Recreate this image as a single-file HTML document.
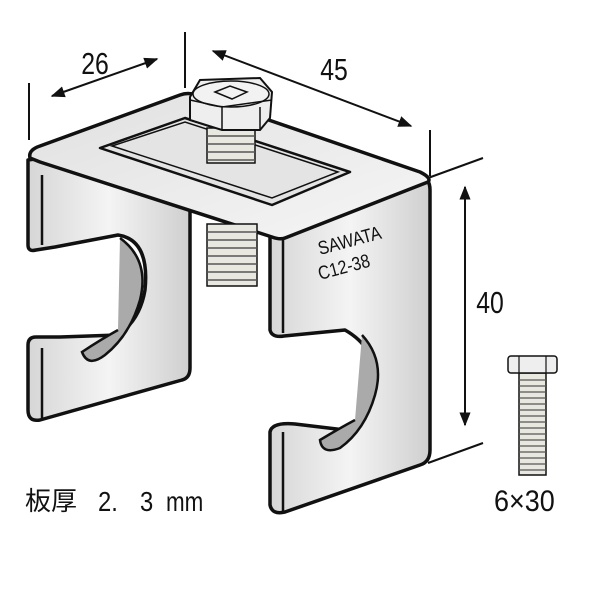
<!DOCTYPE html>
<html><head><meta charset="utf-8"><style>
html,body{margin:0;padding:0;background:#fff;}
svg{display:block;}
text{font-family:"Liberation Sans","Noto Sans CJK JP",sans-serif;fill:#111;}
</style></head><body>
<svg width="600" height="600" viewBox="0 0 600 600" xmlns="http://www.w3.org/2000/svg">
<defs>
<linearGradient id="g1" x1="0" y1="0" x2="1" y2="0">
<stop offset="0" stop-color="#d6d6d6"/><stop offset="0.5" stop-color="#f4f4f4"/><stop offset="1" stop-color="#cfcfcf"/></linearGradient>
<linearGradient id="g2" x1="0" y1="0" x2="1" y2="1">
<stop offset="0" stop-color="#e0e0e0"/><stop offset="1" stop-color="#f6f6f6"/></linearGradient>
<marker id="ar" viewBox="0 0 10 10" refX="9" refY="5" markerWidth="7" markerHeight="7" orient="auto-start-reverse"><path d="M0,1 L10,5 L0,9 Z" fill="#111"/></marker>
</defs>
<g stroke="#111" stroke-width="2" fill="none">
<line x1="29" y1="83" x2="29" y2="140"/>
<line x1="185" y1="32" x2="185" y2="88"/>
<line x1="52" y1="96" x2="157" y2="59" marker-start="url(#ar)" marker-end="url(#ar)"/>
<line x1="213" y1="51" x2="411" y2="126" marker-start="url(#ar)" marker-end="url(#ar)"/>
<line x1="430" y1="130" x2="430" y2="176"/>
<line x1="428" y1="178" x2="483" y2="158"/>
<line x1="428" y1="463" x2="483" y2="443"/>
<line x1="465" y1="187" x2="465" y2="425" marker-start="url(#ar)" marker-end="url(#ar)"/>
</g>
<text font-size="31" text-anchor="middle" transform="translate(95,74) scale(0.8,1)">26</text>
<text font-size="31" text-anchor="middle" transform="translate(334,80) scale(0.8,1)">45</text>
<text font-size="31" text-anchor="middle" transform="translate(490,313) scale(0.8,1)">40</text>

<path d="M28,160 L28,245 Q28,252 36,250 L55,247 L118,235 Q150,240 145,290 Q140,320 118,335 L60,337 L36,337 Q28,337 28,345 L28,410 Q28,422 40,420 L182,380 Q190,378 190,368 L190,205 L42,158 Z" fill="url(#g1)" stroke="#111" stroke-width="3.5" stroke-linejoin="round"/>
<line x1="42" y1="175" x2="42" y2="245" stroke="#111" stroke-width="2.5"/>
<line x1="42" y1="348" x2="42" y2="420" stroke="#111" stroke-width="2.5"/>
<path d="M120,238 Q150,260 140,300 Q130,335 105,355 Q88,368 82,352 Q100,340 118,330" fill="#aaa" stroke="#111" stroke-width="2.5"/>
<path d="M270,232 L270,330 Q272,338 284,336 L345,330 Q380,350 375,390 Q370,420 345,430 L295,424 Q272,422 270,432 L270,505 Q272,515 285,512 L420,465 Q430,462 430,450 L430,190 Q430,178 420,176 Z" fill="url(#g1)" stroke="#111" stroke-width="3.5" stroke-linejoin="round"/>
<line x1="283" y1="240" x2="283" y2="333" stroke="#111" stroke-width="2.5"/>
<line x1="283" y1="432" x2="283" y2="512" stroke="#111" stroke-width="2.5"/>
<path d="M362,335 Q385,360 375,395 Q365,430 340,448 Q322,455 320,440 Q340,428 355,420" fill="#aaa" stroke="#111" stroke-width="2.5"/>
<path d="M30,158 Q28,150 40,146 L180,95 Q188,92 196,95 L420,172 Q432,178 428,182 L285,238 Q280,240 272,237 L40,162 Z" fill="url(#g2)" stroke="#111" stroke-width="3.5" stroke-linejoin="round"/>
<path d="M100,148 L185,118 L350,172 L272,205 Z" fill="#e4e4e4" stroke="#111" stroke-width="2.5" stroke-linejoin="round"/>
<path d="M112,146 L185,122 L338,172 L272,198 Z" fill="none" stroke="#111" stroke-width="1.5"/>
<rect x="207" y="224" width="50" height="62" fill="#e8e8e0" stroke="#111" stroke-width="1.5"/>
<g stroke="#555" stroke-width="1.5" fill="none">
<path d="M207,232 h50 M207,240 h50 M207,248 h50 M207,256 h50 M207,264 h50 M207,272 h50 M207,280 h50"/>
</g>
<rect x="207" y="128" width="48" height="35" fill="#e8e8e0" stroke="#111" stroke-width="1.5"/>
<g stroke="#555" stroke-width="1.5"><path d="M207,136 h48 M207,144 h48 M207,152 h48 M207,160 h48"/></g>
<path d="M190,97 L200,80 L260,78 L272,92 L270,118 L260,130 L222,130 L190,120 Z" fill="#eee" stroke="#111" stroke-width="2"/>
<ellipse cx="231" cy="94" rx="38" ry="13" fill="#f2f2f2" stroke="#111" stroke-width="1.5"/>
<path d="M215,92 L230,86 L247,92 L232,99 Z" fill="none" stroke="#111" stroke-width="1.5"/>
<line x1="222" y1="107" x2="222" y2="130" stroke="#111" stroke-width="1.5"/>
<line x1="260" y1="107" x2="260" y2="130" stroke="#111" stroke-width="1.5"/>
<path d="M190,100 L222,107 L272,100" fill="none" stroke="#111" stroke-width="1.5"/>
<text font-size="19" transform="translate(320,255) rotate(-15) scale(0.85,1)">SAWATA</text>
<text font-size="19" transform="translate(320,280) rotate(-15) scale(0.85,1)">C12-38</text>
<rect x="519" y="373" width="27" height="102" fill="#e8e8e0" stroke="#111" stroke-width="1.5"/>
<g stroke="#555" stroke-width="1.2"><path d="M519,380 h27 M519,386 h27 M519,392 h27 M519,398 h27 M519,404 h27 M519,410 h27 M519,416 h27 M519,422 h27 M519,428 h27 M519,434 h27 M519,440 h27 M519,446 h27 M519,452 h27 M519,458 h27 M519,464 h27 M519,470 h27"/></g>
<rect x="508" y="356" width="49" height="17" rx="3" fill="#eee" stroke="#111" stroke-width="1.5"/>
<line x1="519" y1="356" x2="519" y2="373" stroke="#111" stroke-width="1.2"/>
<line x1="546" y1="356" x2="546" y2="373" stroke="#111" stroke-width="1.2"/>
<text font-size="30" transform="translate(494,511) scale(0.9,1)">6×30</text>
<text x="25" y="510" font-size="26">板厚</text>
<text font-size="28" transform="translate(98,511) scale(0.85,1)">2.</text>
<text font-size="28" transform="translate(140,511) scale(0.85,1)">3</text>
<text font-size="28" transform="translate(166,511) scale(0.8,1)">mm</text>
</svg>
</body></html>
